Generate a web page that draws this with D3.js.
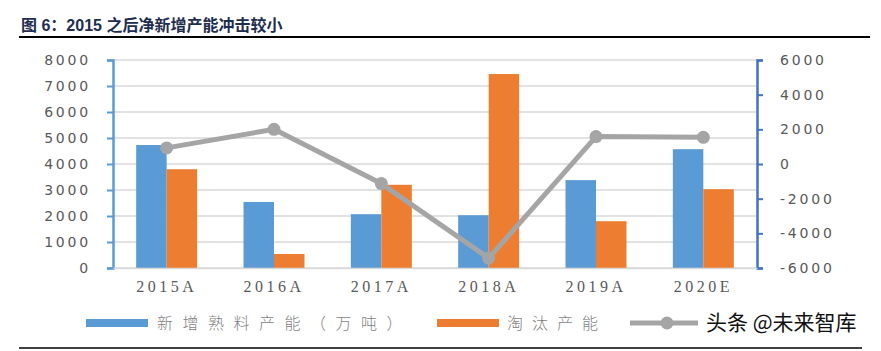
<!DOCTYPE html>
<html>
<head>
<meta charset="utf-8">
<script src="https://cdn.jsdelivr.net/npm/d3@7"></script>
<style>
  body { margin: 0; background: #fff; }
  svg { display: block; }
</style>
</head>
<body>
<svg id="chart" width="881" height="351"></svg>
<script>
// data
var categories = ["2015A", "2016A", "2017A", "2018A", "2019A", "2020E"];
var newCapacity = [4730, 2540, 2070, 2030, 3380, 4570];     // 新增熟料产能（万吨）
var closedCapacity = [3800, 540, 3200, 7460, 1800, 3030];   // 淘汰产能
var netCapacity = [930, 2000, -1130, -5430, 1580, 1540];    // 净新增产能 (right axis)
var leftTicks = [0, 1000, 2000, 3000, 4000, 5000, 6000, 7000, 8000];
var rightTicks = [-6000, -4000, -2000, 0, 2000, 4000, 6000];

var svg = d3.select("#chart");
var margin = {top: 60, right: 124, bottom: 83, left: 113};
var width = 881 - margin.left - margin.right;
var height = 351 - margin.top - margin.bottom;

// title
svg.append("text")
    .attr("x", 21)
    .attr("y", 31)
    .attr("fill", "#1f2d4f")
    .style("font-family", "'Liberation Sans', 'Noto Sans CJK SC', sans-serif")
    .style("font-weight", "bold")
    .style("font-size", "16px")
    .text("图 6：2015 之后净新增产能冲击较小");

svg.append("line")
    .attr("x1", 19).attr("x2", 870)
    .attr("y1", 37).attr("y2", 37)
    .attr("stroke", "#000")
    .attr("stroke-width", 2);

svg.append("line")
    .attr("x1", 19).attr("x2", 862)
    .attr("y1", 348).attr("y2", 348)
    .attr("stroke", "#000")
    .attr("stroke-width", 1.5);

var g = svg.append("g")
    .attr("transform", "translate(" + margin.left + "," + margin.top + ")");

var x = d3.scaleBand().domain(categories).range([0, width]).padding(0);
var xSub = d3.scaleBand().domain(["new", "closed"]).range([0, x.bandwidth()])
    .paddingInner(0).paddingOuter(0.76);
var y = d3.scaleLinear().domain([0, 8000]).range([height, 0]);
var y2 = d3.scaleLinear().domain([-6000, 6000]).range([height, 0]);

// gridlines
g.selectAll(".grid")
    .data(leftTicks)
    .enter().append("line")
    .attr("class", "grid")
    .attr("x1", 0).attr("x2", width)
    .attr("y1", function(d) { return y(d); })
    .attr("y2", function(d) { return y(d); })
    .attr("stroke", "#d9d9d9")
    .attr("stroke-width", 1.3);

// bars
g.selectAll(".barNew")
    .data(newCapacity)
    .enter().append("rect")
    .attr("class", "barNew")
    .attr("x", function(d, i) { return x(categories[i]) + xSub("new"); })
    .attr("y", function(d) { return y(d); })
    .attr("width", xSub.bandwidth())
    .attr("height", function(d) { return height - y(d); })
    .attr("fill", "#5b9bd5");

g.selectAll(".barClosed")
    .data(closedCapacity)
    .enter().append("rect")
    .attr("class", "barClosed")
    .attr("x", function(d, i) { return x(categories[i]) + xSub("closed"); })
    .attr("y", function(d) { return y(d); })
    .attr("width", xSub.bandwidth())
    .attr("height", function(d) { return height - y(d); })
    .attr("fill", "#ed7d31");

// net line on right axis
var line = d3.line()
    .x(function(d, i) { return x(categories[i]) + x.bandwidth() / 2; })
    .y(function(d) { return y2(d); });

g.append("path")
    .datum(netCapacity)
    .attr("d", line)
    .attr("fill", "none")
    .attr("stroke", "#a5a5a5")
    .attr("stroke-width", 5)
    .attr("stroke-linejoin", "round");

g.selectAll(".dot")
    .data(netCapacity)
    .enter().append("circle")
    .attr("class", "dot")
    .attr("cx", function(d, i) { return x(categories[i]) + x.bandwidth() / 2; })
    .attr("cy", function(d) { return y2(d); })
    .attr("r", 6.5)
    .attr("fill", "#a5a5a5");

// left axis
var yAxis = g.append("g")
    .attr("class", "axis y")
    .call(d3.axisLeft(y).tickValues(leftTicks).tickSize(6).tickPadding(16)
        .tickFormat(d3.format("d")));
yAxis.select(".domain").attr("stroke", "#5b9bd5").attr("stroke-width", 2.5);
yAxis.selectAll(".tick line").attr("stroke", "#5b9bd5").attr("stroke-width", 2);
yAxis.selectAll("text")
    .attr("fill", "#595959")
    .style("font-family", "'DejaVu Sans', sans-serif")
    .style("font-size", "14px")
    .style("letter-spacing", "2.8px");

// right axis
var y2Axis = g.append("g")
    .attr("class", "axis y2")
    .attr("transform", "translate(" + width + ",0)")
    .call(d3.axisRight(y2).tickValues(rightTicks).tickSize(6).tickPadding(17)
        .tickFormat(function(d) { return d < 0 ? "-" + Math.abs(d) : d; }));
y2Axis.select(".domain").attr("stroke", "#4472c4").attr("stroke-width", 2.5);
y2Axis.selectAll(".tick line").attr("stroke", "#4472c4").attr("stroke-width", 2);
y2Axis.selectAll("text")
    .attr("fill", "#595959")
    .style("font-family", "'DejaVu Sans', sans-serif")
    .style("font-size", "14px")
    .style("letter-spacing", "2.8px");

// x axis
var xAxis = g.append("g")
    .attr("class", "axis x")
    .attr("transform", "translate(0," + height + ")")
    .call(d3.axisBottom(x).tickSize(0).tickPadding(13));
xAxis.select(".domain").attr("stroke", "#d9d9d9").attr("stroke-width", 1.5);
xAxis.selectAll("text")
    .attr("fill", "#595959")
    .style("font-family", "'Liberation Serif', serif")
    .style("font-size", "16px")
    .style("letter-spacing", "3.5px");

// legend
var legend = svg.append("g").attr("class", "legend");
var legendY = 323;

legend.append("rect")
    .attr("x", 86).attr("y", legendY - 4)
    .attr("width", 62).attr("height", 8)
    .attr("fill", "#5b9bd5");
legend.append("text")
    .attr("x", 157).attr("y", legendY)
    .attr("dy", "0.35em")
    .attr("fill", "#7f7f7f")
    .style("font-family", "'Noto Sans CJK SC', sans-serif")
    .style("font-size", "16px")
    .style("font-weight", "300")
    .style("letter-spacing", "9.5px")
    .text("新增熟料产能（万吨）");

legend.append("rect")
    .attr("x", 437).attr("y", legendY - 4)
    .attr("width", 62).attr("height", 8)
    .attr("fill", "#ed7d31");
legend.append("text")
    .attr("x", 507).attr("y", legendY)
    .attr("dy", "0.35em")
    .attr("fill", "#7f7f7f")
    .style("font-family", "'Noto Sans CJK SC', sans-serif")
    .style("font-size", "16px")
    .style("font-weight", "300")
    .style("letter-spacing", "9px")
    .text("淘汰产能");

legend.append("line")
    .attr("x1", 630).attr("x2", 698)
    .attr("y1", legendY).attr("y2", legendY)
    .attr("stroke", "#a5a5a5")
    .attr("stroke-width", 5);
legend.append("circle")
    .attr("cx", 667).attr("cy", legendY)
    .attr("r", 6.5)
    .attr("fill", "#a5a5a5");

// watermark over the third legend label
legend.append("text")
    .attr("x", 706).attr("y", legendY)
    .attr("dy", "0.35em")
    .attr("fill", "#111")
    .style("font-family", "'Noto Sans CJK SC', sans-serif")
    .style("font-size", "21px")
    .text("头条 @未来智库");
</script>
</body>
</html>
